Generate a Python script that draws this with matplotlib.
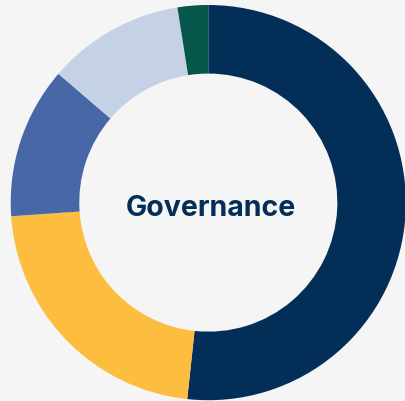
import matplotlib.pyplot as plt

# share of each slice (%), clockwise from the top
labels = ["Navy", "Yellow", "Blue", "Light blue", "Green"]
shares = [51.7, 22.2, 12.4, 11.2, 2.5]
colors = ["#022e57", "#fdbd3e", "#4867a7", "#c5d1e5", "#04574a"]
center_label = "Governance"

fig = plt.figure(figsize=(4.05, 4.01), dpi=100)
fig.patch.set_facecolor("#f5f5f5")
ax = fig.add_axes([0, 0, 1, 1])
ax.set_facecolor("#f5f5f5")

# pixel coordinates of the ring
cx, cy, r = 208.3, 401 - 202.6, 197.6
ax.pie(shares, colors=colors, startangle=90, counterclock=False,
       center=(cx, cy), radius=r,
       wedgeprops=dict(width=r * 0.347, linewidth=0))

ax.text(211, 401 - 208.5, center_label, ha="center", va="center",
        fontsize=20.5, fontweight="bold", color="#022e57",
        family=["Inter", "DejaVu Sans"])

ax.set_xlim(0, 405)
ax.set_ylim(0, 401)
ax.set_aspect("equal")
ax.axis("off")

fig.savefig("out.png", dpi=100, facecolor=fig.get_facecolor())
